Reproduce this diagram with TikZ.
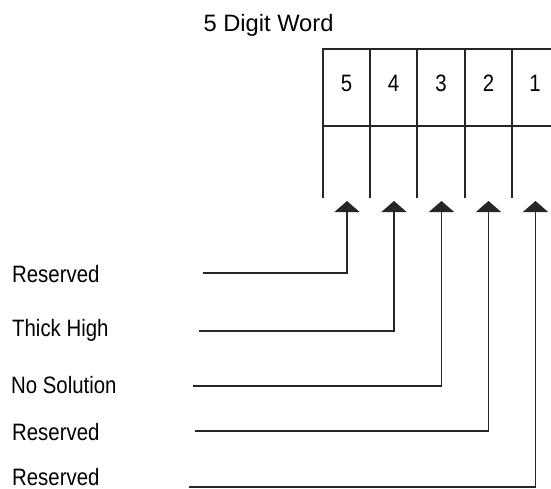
\documentclass[tikz,border=0pt]{standalone}
\usepackage{fontspec}
\setmainfont{Liberation Sans}
\newfontfamily\narrowfont[FakeStretch=0.86]{Liberation Sans}
\usetikzlibrary{arrows.meta}
\begin{document}
\begin{tikzpicture}[x=1pt,y=-1pt,
  ln/.style={line width=1.2pt,black!85},
  lbl/.style={anchor=base west,inner sep=0pt,font=\narrowfont\fontsize{23.7}{26}\selectfont},
  dig/.style={inner sep=0pt,font=\narrowfont\fontsize{23.7}{26}\selectfont},
  conn/.style={ln,-{Triangle[width=25pt,length=11pt]}}]
\useasboundingbox (0,0) rectangle (551,489);
% title
\node[anchor=base,inner sep=0pt,font=\fontsize{23.7}{26}\selectfont] (title) at (268.5,32) {5 Digit Word};
% word boxes
\draw[ln] (551,49) -- (323,49) -- (323,198);
\draw[ln] (323,126) -- (551,126);
\foreach \x in {370,417,465,512} \draw[ln] (\x,49) -- (\x,198);
\node[dig] (d5) at (346.5,83) {5};
\node[dig] (d4) at (393.5,83) {4};
\node[dig] (d3) at (441,83) {3};
\node[dig] (d2) at (488.5,83) {2};
\node[dig] (d1) at (535,83) {1};
% arrow tips
\coordinate (t5) at (347,201);
\coordinate (t4) at (394,201);
\coordinate (t3) at (441.5,201);
\coordinate (t2) at (488.5,201);
\coordinate (t1) at (535.5,201);
% labels
\node[lbl] (l1) at (12,282) {Reserved};
\node[lbl] (l2) at (12,336) {Thick High};
\node[lbl] (l3) at (11,393) {No Solution};
\node[lbl] (l4) at (12,440) {Reserved};
\node[lbl] (l5) at (12,485) {Reserved};
% connector starts
\coordinate (s1) at (203,273);
\coordinate (s2) at (199,331);
\coordinate (s3) at (193,386);
\coordinate (s4) at (195,431);
\coordinate (s5) at (189,487);
\draw[conn] (s1) -| (t5);
\draw[conn] (s2) -| (t4);
\draw[conn] (s3) -| (t3);
\draw[conn] (s4) -| (t2);
\draw[conn] (s5) -| (t1);
\end{tikzpicture}
\end{document}
